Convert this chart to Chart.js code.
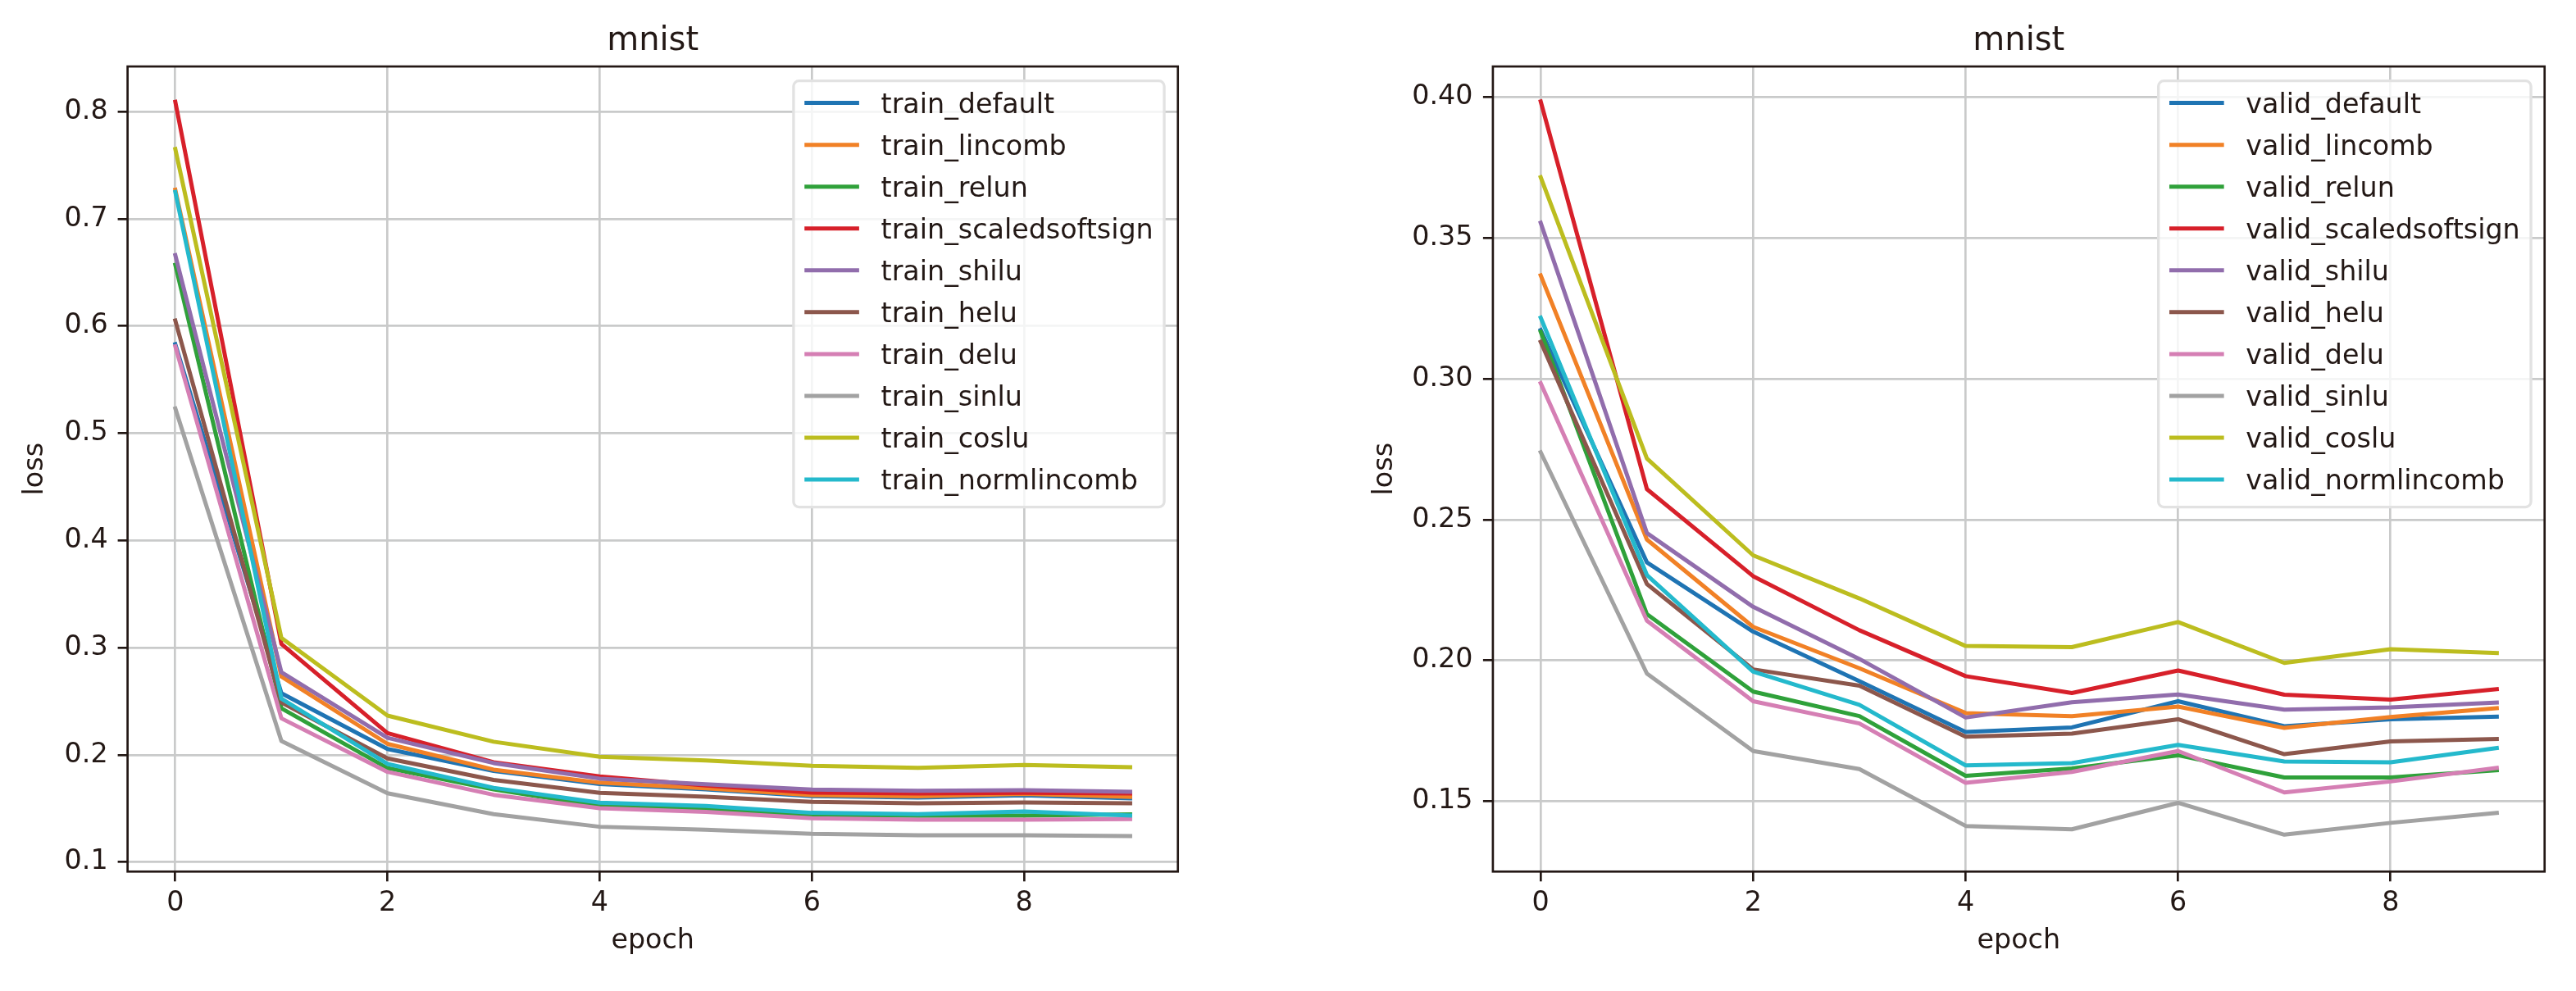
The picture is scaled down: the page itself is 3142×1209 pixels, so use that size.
<!DOCTYPE html>
<html>
<head>
<meta charset="utf-8">
<script src="https://cdn.jsdelivr.net/npm/chart.js@4.4.1/dist/chart.umd.min.js"></script>
<style>
html,body{margin:0;padding:0;background:#ffffff;overflow:hidden;width:3142px;height:1209px;}
canvas{position:absolute;top:0;}
#c1{left:0px;}
#c2{left:1571px;}
</style>
</head>
<body>
<canvas id="c1" width="1571" height="1209"></canvas>
<canvas id="c2" width="1571" height="1209"></canvas>
<script>
// ---------------- data ----------------
const epochs = [0, 1, 2, 3, 4, 5, 6, 7, 8, 9];
const seriesNames = ['default', 'lincomb', 'relun', 'scaledsoftsign', 'shilu', 'helu', 'delu', 'sinlu', 'coslu', 'normlincomb'];
const seriesColors = ['#1f74b3', '#f18126', '#2fa13a', '#d7202a', '#916dac', '#8c574c', '#d57fb4', '#a2a2a2', '#bcbd1f', '#24b9cc'];

const train_default        = [0.583, 0.2574, 0.2054, 0.1850, 0.1728, 0.1678, 0.1615, 0.1602, 0.1622, 0.1595];
const train_lincomb        = [0.727, 0.2730, 0.2102, 0.1862, 0.1740, 0.1688, 0.1625, 0.1612, 0.1635, 0.1607];
const train_relun          = [0.657, 0.2434, 0.1876, 0.1677, 0.1523, 0.1497, 0.1439, 0.1432, 0.1434, 0.1445];
const train_scaledsoftsign = [0.809, 0.3034, 0.2203, 0.1930, 0.1798, 0.1714, 0.1648, 0.1640, 0.1645, 0.1640];
const train_shilu          = [0.666, 0.2770, 0.2158, 0.1923, 0.1778, 0.1726, 0.1676, 0.1665, 0.1670, 0.1655];
const train_helu           = [0.605, 0.2488, 0.1966, 0.1766, 0.1645, 0.1609, 0.1561, 0.1548, 0.1556, 0.1548];
const train_delu           = [0.581, 0.2340, 0.1841, 0.1627, 0.1502, 0.1467, 0.1408, 0.1395, 0.1395, 0.1400];
const train_sinlu          = [0.523, 0.2128, 0.1641, 0.1446, 0.1329, 0.1301, 0.1263, 0.1250, 0.1250, 0.1242];
const train_coslu          = [0.765, 0.3090, 0.2366, 0.2122, 0.1982, 0.1948, 0.1897, 0.1879, 0.1905, 0.1885];
const train_normlincomb    = [0.725, 0.2524, 0.1915, 0.1692, 0.1553, 0.1523, 0.1459, 0.1446, 0.1472, 0.1434];

const valid_default        = [0.3173, 0.2348, 0.2102, 0.1926, 0.1746, 0.1762, 0.1855, 0.1766, 0.1791, 0.1800];
const valid_lincomb        = [0.3367, 0.2429, 0.2119, 0.1972, 0.1813, 0.1802, 0.1836, 0.1760, 0.1799, 0.1830];
const valid_relun          = [0.3167, 0.2164, 0.1889, 0.1802, 0.1590, 0.1616, 0.1663, 0.1584, 0.1584, 0.1610];
const valid_scaledsoftsign = [0.3985, 0.2608, 0.2299, 0.2107, 0.1944, 0.1884, 0.1964, 0.1878, 0.1861, 0.1898];
const valid_shilu          = [0.3554, 0.2452, 0.2190, 0.2005, 0.1797, 0.1851, 0.1879, 0.1825, 0.1833, 0.1850];
const valid_helu           = [0.3131, 0.2271, 0.1968, 0.1910, 0.1729, 0.1740, 0.1791, 0.1667, 0.1712, 0.1721];
const valid_delu           = [0.2984, 0.2141, 0.1855, 0.1776, 0.1565, 0.1604, 0.1678, 0.1531, 0.1570, 0.1618];
const valid_sinlu          = [0.2739, 0.1953, 0.1678, 0.1614, 0.1412, 0.1400, 0.1494, 0.1381, 0.1423, 0.1458];
const valid_coslu          = [0.3716, 0.2717, 0.2373, 0.2220, 0.2051, 0.2047, 0.2136, 0.1991, 0.2040, 0.2026];
const valid_normlincomb    = [0.3217, 0.2303, 0.1960, 0.1842, 0.1627, 0.1635, 0.1700, 0.1641, 0.1638, 0.1689];

const trainSeries = [train_default, train_lincomb, train_relun, train_scaledsoftsign, train_shilu,
                     train_helu, train_delu, train_sinlu, train_coslu, train_normlincomb];
const validSeries = [valid_default, valid_lincomb, valid_relun, valid_scaledsoftsign, valid_shilu,
                     valid_helu, valid_delu, valid_sinlu, valid_coslu, valid_normlincomb];

const xTickValues = [0, 2, 4, 6, 8];
const xTickLabels = ['0', '2', '4', '6', '8'];
const trainYTickValues = [0.1, 0.2, 0.3, 0.4, 0.5, 0.6, 0.7, 0.8];
const trainYTickLabels = ['0.1', '0.2', '0.3', '0.4', '0.5', '0.6', '0.7', '0.8'];
const validYTickValues = [0.15, 0.20, 0.25, 0.30, 0.35, 0.40];
const validYTickLabels = ['0.15', '0.20', '0.25', '0.30', '0.35', '0.40'];

const plotTitle = 'mnist';
const xLabel = 'epoch';
const yLabel = 'loss';

// ---------------- style ----------------
const TEXT = '#231815';
const GRID = '#c9caca';
const FONT = 'DejaVu Sans';
const FS = 33.33;

const mplPlugin = {
  id: 'mpl',
  afterDatasetsDraw(chart, args, opts) {
    const ctx = chart.ctx;
    const a = chart.chartArea;
    ctx.save();
    // full frame (spines)
    ctx.strokeStyle = TEXT;
    ctx.lineWidth = 2.67;
    ctx.strokeRect(a.left, a.top, a.right - a.left, a.bottom - a.top);
    // title
    ctx.fillStyle = TEXT;
    ctx.font = '40px "' + FONT + '"';
    ctx.textAlign = 'center';
    ctx.textBaseline = 'alphabetic';
    ctx.fillText(opts.title, (a.left + a.right) / 2, 60.5);
    // legend
    ctx.font = FS + 'px "' + FONT + '"';
    const ds = chart.data.datasets;
    let maxW = 0;
    ds.forEach(d => { maxW = Math.max(maxW, ctx.measureText(d.label).width); });
    const pad = 0.4 * FS, hl = 2 * FS, htp = 0.8 * FS;
    const bw = pad * 2 + hl + htp + maxW;
    const pitch = 51.05;
    const bh = 520;
    const bx = a.right - 0.5 * FS - bw;
    const by = a.top + 17.5;
    const r = 0.2 * FS;
    ctx.beginPath();
    ctx.moveTo(bx + r, by);
    ctx.lineTo(bx + bw - r, by);
    ctx.arcTo(bx + bw, by, bx + bw, by + r, r);
    ctx.lineTo(bx + bw, by + bh - r);
    ctx.arcTo(bx + bw, by + bh, bx + bw - r, by + bh, r);
    ctx.lineTo(bx + r, by + bh);
    ctx.arcTo(bx, by + bh, bx, by + bh - r, r);
    ctx.lineTo(bx, by + r);
    ctx.arcTo(bx, by, bx + r, by, r);
    ctx.closePath();
    ctx.fillStyle = 'rgba(255,255,255,0.8)';
    ctx.fill();
    ctx.strokeStyle = '#e2e2e2';
    ctx.lineWidth = 3.33;
    ctx.stroke();
    ctx.textAlign = 'left';
    ctx.textBaseline = 'alphabetic';
    ds.forEach((d, i) => {
      const hy = by + 27 + i * pitch;
      ctx.beginPath();
      ctx.strokeStyle = d.borderColor;
      ctx.lineWidth = 5;
      ctx.lineCap = 'square';
      ctx.moveTo(bx + pad + 2.5, hy);
      ctx.lineTo(bx + pad + hl - 2.5, hy);
      ctx.stroke();
      ctx.fillStyle = TEXT;
      ctx.fillText(d.label, bx + pad + hl + htp, hy + 12.3);
    });
    ctx.restore();
  }
};

function makePlot(canvasId, prefix, series, yTickValues, yTickLabels, yMin, yMax, geo) {
  const datasets = series.map((vals, i) => ({
    label: prefix + '_' + seriesNames[i],
    data: epochs.map((e, j) => ({ x: e, y: vals[j] })),
    borderColor: seriesColors[i],
    backgroundColor: seriesColors[i],
    borderWidth: 5,
    borderCapStyle: 'square',
    borderJoinStyle: 'round',
    pointRadius: 0,
    pointHoverRadius: 0,
    tension: 0,
    fill: false,
    order: series.length - 1 - i
  }));
  const tickFont = { family: FONT, size: FS };
  return new Chart(document.getElementById(canvasId), {
    type: 'line',
    data: { datasets },
    plugins: [mplPlugin],
    options: {
      responsive: false,
      animation: false,
      devicePixelRatio: 1,
      events: [],
      layout: { padding: { left: 0, right: geo.padRight, top: 81.1, bottom: 0 } },
      plugins: {
        legend: { display: false },
        tooltip: { enabled: false },
        title: { display: false },
        mpl: { title: plotTitle }
      },
      scales: {
        x: {
          type: 'linear',
          min: -0.45,
          max: 9.45,
          afterBuildTicks: s => { s.ticks = xTickValues.map(v => ({ value: v })); },
          afterFit: s => { s.height = 145.7; },
          ticks: {
            font: tickFont, color: TEXT, padding: 7, maxRotation: 0, autoSkip: false,
            callback: (v, i) => xTickLabels[i]
          },
          grid: { color: GRID, lineWidth: 2.67, tickLength: 12, tickColor: TEXT, tickWidth: 2.67 },
          border: { display: false },
          title: { display: true, text: xLabel, color: TEXT, font: tickFont, padding: { top: 0, bottom: 40.7 } }
        },
        y: {
          type: 'linear',
          min: yMin,
          max: yMax,
          afterBuildTicks: s => { s.ticks = yTickValues.map(v => ({ value: v })); },
          afterFit: s => { s.width = geo.yWidth; },
          ticks: {
            font: tickFont, color: TEXT, padding: geo.yPad, autoSkip: false,
            callback: (v, i) => yTickLabels[i]
          },
          grid: { color: GRID, lineWidth: 2.67, tickLength: 12, tickColor: TEXT, tickWidth: 2.67 },
          border: { display: false },
          title: { display: true, text: yLabel, color: TEXT, font: tickFont, padding: { top: geo.yTitlePad, bottom: 0 } }
        }
      }
    }
  });
}

makePlot('c1', 'train', trainSeries, trainYTickValues, trainYTickLabels, 0.0911, 0.842,
  { padRight: 134.3, yWidth: 155.6, yPad: 12, yTitlePad: 23.7 });
makePlot('c2', 'valid', validSeries, validYTickValues, validYTickLabels, 0.125, 0.4109,
  { padRight: 38.3, yWidth: 249.9, yPad: 12.5, yTitlePad: 98.7 });
</script>
</body>
</html>
